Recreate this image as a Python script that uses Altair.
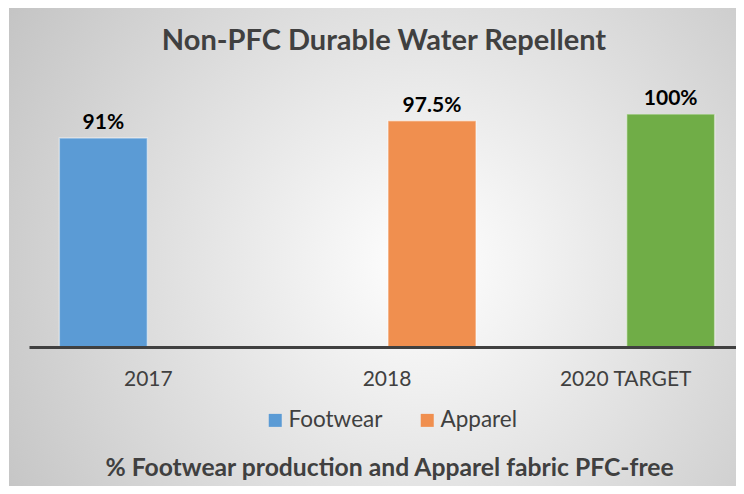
import altair as alt
import pandas as pd

# ---- data ----
categories = ["2017", "2018", "2020 TARGET"]
series = ["Footwear", "Apparel", "Apparel"]
color_keys = ["Footwear", "Apparel", "2020 Target"]
values = [91, 97.5, 100]
value_labels = ["91%", "97.5%", "100%"]

series_order = ["Footwear", "Apparel"]
legend_items = ["Footwear", "Apparel"]
key_domain = ["Footwear", "Apparel", "2020 Target"]
key_colors = ["#5B9BD5", "#F08F4F", "#70AD47"]

chart_title = "Non-PFC Durable Water Repellent"
bottom_caption = "% Footwear production and Apparel fabric PFC-free"

# ---- layout ----
FONT = "Lato"
TEXT = "#404040"
W, H = 707, 233
PAD_L, PAD_T, PAD_R, PAD_B = 21, 106, 0, 139

df = pd.DataFrame({
    "category": categories,
    "series": series,
    "key": color_keys,
    "value": values,
    "label": value_labels,
})

x_enc = alt.X(
    "category:N", sort=categories,
    scale=alt.Scale(range=[0, 716], paddingInner=0, paddingOuter=0),
    axis=alt.Axis(title=None, labelAngle=0, ticks=False, tickSize=0,
                  domainColor="#404040", domainWidth=3, grid=False,
                  labelFont=FONT, labelFontSize=21, labelColor=TEXT,
                  labelBaseline="alphabetic", labelPadding=38, zindex=2),
)
xo_enc = alt.XOffset(
    "series:N", sort=series_order,
    scale=alt.Scale(domain=series_order, paddingInner=0.022, paddingOuter=0.337),
)
y_enc = alt.Y("value:Q", scale=alt.Scale(domain=[12.6, 100], zero=False, nice=False), axis=None)

bg_df = pd.DataFrame({"panel": [0]})
background = alt.Chart(bg_df).mark_rect(
    fill=alt.RadialGradient(
        gradient="radial",
        x1=0.57, y1=0.52, r1=0,
        x2=0.57, y2=0.52, r2=0.75,
        stops=[alt.GradientStop(color="#ffffff", offset=0),
               alt.GradientStop(color="#bdbdbd", offset=1)],
    ),
).encode(
    x=alt.value(-PAD_L + 1), x2=alt.value(W + PAD_R),
    y=alt.value(-PAD_T), y2=alt.value(H + PAD_B),
)

bars = alt.Chart(df).mark_bar(
    clip=True, stroke="#ffffff", strokeOpacity=0.45, strokeWidth=1.5,
).encode(
    x=x_enc, xOffset=xo_enc, y=y_enc,
    color=alt.Color(
        "key:N",
        scale=alt.Scale(domain=key_domain, range=key_colors),
        legend=alt.Legend(
            values=legend_items, orient="none", legendX=235, legendY=295,
            direction="horizontal", title=None, symbolType="square",
            symbolSize=169, symbolStrokeWidth=0, symbolOpacity=1,
            labelFont=FONT, labelFontSize=22.5, labelColor=TEXT,
            columnPadding=33, labelOffset=2, zindex=2,
        ),
    ),
)

labels = alt.Chart(df).mark_text(
    font=FONT, fontSize=21, fontWeight="bold", color="#000000",
    baseline="alphabetic", dy=-9,
).encode(x=x_enc, xOffset=xo_enc, y=y_enc, text="label:N")

title_df = pd.DataFrame({"title": [chart_title]})
title_mark = alt.Chart(title_df).mark_text(
    font=FONT, fontSize=29, fontWeight="bold", color=TEXT,
    baseline="alphabetic", align="center",
).encode(x=alt.value(355), y=alt.value(-64), text="title:N")

caption_df = pd.DataFrame({"caption": [bottom_caption]})
caption_mark = alt.Chart(caption_df).mark_text(
    font=FONT, fontSize=24.7, fontWeight="bold", color=TEXT,
    baseline="alphabetic", align="center",
).encode(x=alt.value(360.5), y=alt.value(362), text="caption:N")

chart = alt.layer(background, bars, labels, title_mark, caption_mark).properties(
    width=W, height=H,
    autosize=alt.AutoSizeParams(type="none"),
    padding={"left": PAD_L, "top": PAD_T, "right": PAD_R, "bottom": PAD_B},
    background="#ffffff",
).configure_view(stroke=None)

chart.save("out.html", embed_options={"renderer": "svg", "actions": False})
